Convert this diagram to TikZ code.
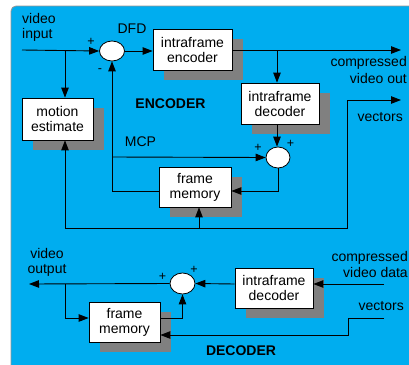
\documentclass[tikz,border=0pt]{standalone}
\usepackage{fontspec}
\setmainfont{Liberation Sans}
\usetikzlibrary{arrows.meta,shapes.geometric,shadows}
\definecolor{shgray}{RGB}{128,128,128}
\definecolor{bordergray}{RGB}{150,150,150}
\begin{document}
\begin{tikzpicture}[x=1pt,y=-1pt,
  txt/.style={inner sep=0pt, font=\fontsize{14}{15}\selectfont},
  box/.style={draw=black, line width=0.8pt, fill=white, inner sep=0pt, align=center,
    font=\fontsize{14}{15}\selectfont,
    drop shadow={shadow xshift=11pt, shadow yshift=-10pt, fill=shgray, opacity=1}},
  sum/.style={ellipse, draw=black, line width=0.8pt, fill=white, inner sep=0pt,
    minimum width=25pt, minimum height=20pt},
  sgn/.style={inner sep=0pt, font=\fontsize{12.5}{12.5}\selectfont},
  conn/.style={line width=0.9pt, -{Triangle[length=10pt,width=7.5pt]}},
  wire/.style={line width=0.9pt}]
\useasboundingbox (0,0) rectangle (409,364);
\begin{scope}
\clip (0,0) rectangle (409,364);
\draw[bordergray, line width=0.8pt, fill=cyan, rounded corners=5pt] (11,6) rectangle (430,385);
\end{scope}

% ---------------- ENCODER ----------------
\node[box, minimum width=79pt, minimum height=41pt] (enc) at (192.5,49.5) {intraframe\\encoder};
\node[box, minimum width=78pt, minimum height=41pt] (idec) at (280,103.5) {intraframe\\decoder};
\node[box, minimum width=71pt, minimum height=42pt] (me) at (57.5,119) {motion\\estimate};
\node[box, minimum width=72pt, minimum height=40pt] (fm) at (195,187) {frame\\memory};
\node[sum] (s1) at (112,51) {};
\node[sum, minimum width=24pt, minimum height=21pt] (a1) at (278,157.5) {};

\node[txt, anchor=west, align=left] (vin) at (22,27) {video\\input};
\node[txt] (dfd) at (132,28.5) {DFD};
\node[txt, font=\fontsize{14}{15}\selectfont\bfseries] (encl) at (170.5,103.5) {ENCODER};
\node[txt] (mcp) at (140.5,142) {MCP};
\node[txt, anchor=east, align=right, font=\fontsize{14}{17}\selectfont] (cvo) at (407,70) {compressed\\video out};
\node[txt, anchor=east] (vec1) at (403,117) {vectors};

\node[sgn] (p1) at (91,42) {+};
\node[sgn] (m1) at (100,71) {-};
\node[sgn] (p2) at (258,148) {+};
\node[sgn] (p3) at (290.5,144) {+};

\coordinate (in) at (22,50);
\coordinate (j1) at (65,50);
\coordinate (out) at (401,50);
\coordinate (j2) at (277,50);
\coordinate (jl) at (112,191);
\coordinate (jm) at (112,157);
\coordinate (b1) at (65,228);
\coordinate (b2) at (199,228);
\coordinate (b3) at (347,228);
\coordinate (b4) at (347,100);
\coordinate (vout) at (401,100);

\draw[conn] (in) -- (s1.west);
\draw[conn] (j1) -- (j1 |- me.north);
\draw[conn] (s1.east) -- (enc.west |- s1.east);
\draw[conn] (enc.east |- j2) -- (out);
\draw[conn] (j2) -- (j2 |- idec.north);
\draw[conn] (j2 |- idec.south) -- (j2 |- a1.north);
\draw[conn] (a1.south) -- (a1.south |- 0,191) -- (fm.east |- 0,191);
\draw[conn] (fm.west |- jl) -- (jl) -- (s1.south);
\draw[conn] (jm) -- (a1.west);
\draw[conn] (b1) -- (b1 |- me.south);
\draw[conn] (b2) -- (b2 |- fm.south);
\draw[conn] (b1) -- (b3) -- (b4) -- (vout);

% ---------------- DECODER ----------------
\node[box, minimum width=78pt, minimum height=40pt] (ddec) at (274,288) {intraframe\\decoder};
\node[box, minimum width=71pt, minimum height=40pt] (dfm) at (124.5,322) {frame\\memory};
\node[sum, minimum height=21pt] (a2) at (182.5,283.5) {};

\node[txt, align=center] (vo) at (47,262.5) {video\\output};
\node[txt, anchor=east, align=right, font=\fontsize{14}{16}\selectfont] (cvd) at (408,264.5) {compressed\\video data};
\node[txt, anchor=east] (vec2) at (404,306) {vectors};
\node[txt, font=\fontsize{14}{15}\selectfont\bfseries] (decl) at (241,351) {DECODER};

\node[sgn] (p4) at (162.5,277) {+};
\node[sgn] (p5) at (194,270) {+};

\coordinate (din) at (384,284);
\coordinate (dout) at (29,284);
\coordinate (dj) at (65,284);
\coordinate (dq) at (65,318);
\coordinate (dr) at (182.5,318);
\coordinate (v1) at (384,318);
\coordinate (v2) at (348,318);
\coordinate (v3) at (348,335);

\draw[conn] (din) -- (ddec.east |- din);
\draw[conn] (ddec.west |- din) -- (a2.east);
\draw[conn] (a2.west) -- (dout);
\draw[conn] (dj) -- (dq) -- (dfm.west |- dq);
\draw[conn] (dfm.east |- dr) -- (dr) -- (a2.south);
\draw[conn] (v1) -- (v2) -- (v3) -- (dfm.east |- v3);
\end{tikzpicture}
\end{document}
